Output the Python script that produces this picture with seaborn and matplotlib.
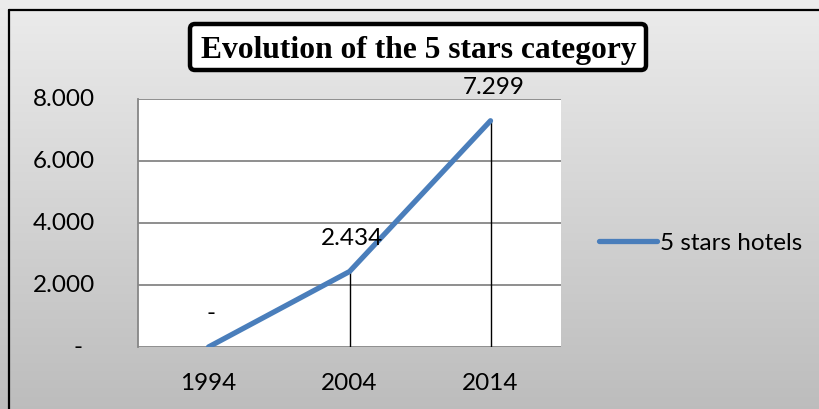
import numpy as np
import matplotlib
matplotlib.use("Agg")
import matplotlib.pyplot as plt
from matplotlib.lines import Line2D
from matplotlib.patches import FancyBboxPatch
import seaborn as sns

years = ["1994", "2004", "2014"]
hotels_5_stars = [0, 2434, 7299]
y_ticks = [0, 2000, 4000, 6000, 8000]
y_tick_labels = ["-", "2.000", "4.000", "6.000", "8.000"]
data_labels = ["-", "2.434", "7.299"]
series_name = "5 stars hotels"
title = "Evolution of the 5 stars category"

sns.set_theme(style="white")
plt.rcParams['font.family'] = ['Lato', 'DejaVu Sans']
plt.rcParams['text.color'] = 'black'
plt.rcParams['xtick.color'] = 'black'
plt.rcParams['ytick.color'] = 'black'

FS = 17.5
LINE_COLOR = '#4A7EBB'
W, H = 820, 409
fig = plt.figure(figsize=(W / 100, H / 100), dpi=100)

# gradient background
bg = fig.add_axes([0, 0, 1, 1], zorder=-10)
grad = np.linspace(0.925, 0.74, 256).reshape(-1, 1)
bg.imshow(np.dstack([grad, grad, grad]), aspect='auto', extent=[0, 1, 0, 1])
bg.set_axis_off()
# outer border (top and left visible)
fig.add_artist(Line2D([9.5 / W, 9.5 / W], [0, 1 - 9.5 / H], transform=fig.transFigure, color='black', lw=1.6))
fig.add_artist(Line2D([9.5 / W, 1.01], [1 - 9.5 / H, 1 - 9.5 / H], transform=fig.transFigure, color='black', lw=1.6))

left, right, top, bottom = 138, 561, 99, 347
ax = fig.add_axes([left / W, (H - bottom) / H, (right - left) / W, (bottom - top) / H])
ax.set_facecolor('white')

xs = list(range(len(years)))
ax.vlines(xs, 0, hotels_5_stars, color='black', lw=1.0, zorder=2)
sns.lineplot(x=xs, y=hotels_5_stars, ax=ax, color=LINE_COLOR, lw=3.8, zorder=3,
             solid_capstyle='round', label=series_name, legend=False)

for x, v, lab in zip(xs, hotels_5_stars, data_labels):
    ax.annotate(lab, (x, v), xytext=(2, 24), textcoords='offset points',
                ha='center', va='center', fontsize=FS, color='black')

ax.set_xlim(-0.5, len(years) - 0.5)
ax.set_ylim(0, 8000)
ax.set_xticks(xs)
ax.set_xticklabels(years)
ax.set_yticks(y_ticks)
ax.grid(axis='y', color='#868686', lw=1.3)
ax.set_axisbelow(True)
for s in ['top', 'right', 'bottom']:
    ax.spines[s].set_visible(False)
ax.spines['left'].set_color('#868686')
ax.spines['left'].set_linewidth(1.3)
ax.tick_params(axis='y', length=7, width=1.3, color='#868686', labelleft=False)
ax.tick_params(axis='x', length=0, pad=19, labelsize=FS)
ax.set_xlabel('')
ax.set_ylabel('')

# y tick labels (Excel accounting style: "-" for zero sits further left)
axw = right - left
ytrans = ax.get_yaxis_transform()
for val, lab in zip(y_ticks, y_tick_labels):
    if lab == "-":
        ax.text(-(left - 78) / axw, val, lab, transform=ytrans, ha='center',
                va='center', fontsize=FS, clip_on=False)
    else:
        ax.text(-(left - 95) / axw, val, lab, transform=ytrans, ha='right',
                va='center', fontsize=FS, clip_on=False)

fig.legend(handles=[Line2D([], [], color=LINE_COLOR, lw=3.8, solid_capstyle='round')],
           labels=[series_name], loc='center left',
           bbox_to_anchor=(599 / W, 1 - 243 / H), frameon=False, fontsize=FS,
           handlelength=2.4, handletextpad=0.1, borderpad=0, borderaxespad=0)

# title box
bx0, bx1, by0, by1 = 190, 646, 24, 70
fig.add_artist(FancyBboxPatch((bx0 / W, 1 - by1 / H), (bx1 - bx0) / W, (by1 - by0) / H,
                              boxstyle='round,pad=0,rounding_size=0.006',
                              transform=fig.transFigure, facecolor='white',
                              edgecolor='black', lw=3.2, mutation_aspect=W / H))
fig.text(419 / W, 1 - 58 / H, title, ha='center', va='baseline',
         family='Liberation Serif', fontweight='bold', fontsize=22.7, color='black')

fig.savefig('out.png', dpi=100)
